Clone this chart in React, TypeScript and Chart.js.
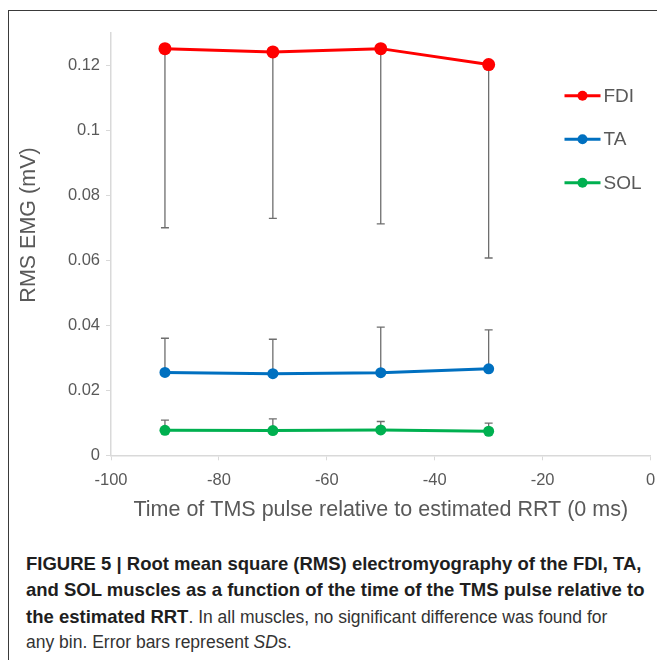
import React, { useEffect, useRef } from "react";
import { Chart, registerables } from "chart.js";

Chart.register(...registerables);

const xValues = [-90, -70, -50, -30];
const xTicks = [-100, -80, -60, -40, -20, 0];
const yTicks = [0, 0.02, 0.04, 0.06, 0.08, 0.1, 0.12];

const seriesNames = ["FDI", "TA", "SOL"];
const seriesColors = ["#ff0000", "#0070c0", "#00b050"];

const fdiMean = [0.1251, 0.1241, 0.1251, 0.1202];
const fdiSD = [0.0551, 0.0512, 0.0539, 0.0595];
const taMean = [0.0255, 0.0251, 0.0254, 0.0266];
const taSD = [0.0105, 0.0106, 0.014, 0.012];
const solMean = [0.0077, 0.0076, 0.0078, 0.0074];
const solSD = [0.0031, 0.0036, 0.0026, 0.0025];

// -1 = error bar drawn below the mean, +1 = above
const errorDirection = [-1, 1, 1];

const yTitle = "RMS EMG (mV)";
const xTitle = "Time of TMS pulse relative to estimated RRT (0 ms)";

const means = [fdiMean, taMean, solMean];
const sds = [fdiSD, taSD, solSD];

const FONT = "'Liberation Sans', Arial, Helvetica, sans-serif";
const TEXT = "#595959";
const AXIS = "#d9d9d9";

const errorBarPlugin = {
  id: "errorBars",
  beforeDatasetsDraw(chart: any) {
    const ctx = chart.ctx;
    const xs = chart.scales.x;
    const ys = chart.scales.y;
    ctx.save();
    ctx.strokeStyle = "#6e6e6e";
    ctx.lineWidth = 1.3;
    chart.data.datasets.forEach((ds: any, i: number) => {
      ds.data.forEach((p: any, j: number) => {
        const x = xs.getPixelForValue(p.x);
        const y0 = ys.getPixelForValue(p.y);
        const y1 = ys.getPixelForValue(p.y + errorDirection[i] * sds[i][j]);
        ctx.beginPath();
        ctx.moveTo(x, y0);
        ctx.lineTo(x, y1);
        ctx.moveTo(x - 4, y1);
        ctx.lineTo(x + 4, y1);
        ctx.stroke();
      });
    });
    ctx.restore();
  },
};

const decorPlugin = {
  id: "decor",
  afterDraw(chart: any) {
    const ctx = chart.ctx;
    const area = chart.chartArea;
    // legend
    const x0 = area.right - 86;
    const yStart = area.top + 63;
    const gap = 43.5;
    ctx.save();
    chart.data.datasets.forEach((ds: any, i: number) => {
      const y = yStart + i * gap;
      ctx.strokeStyle = ds.borderColor;
      ctx.lineWidth = 3;
      ctx.beginPath();
      ctx.moveTo(x0, y);
      ctx.lineTo(x0 + 36, y);
      ctx.stroke();
      ctx.fillStyle = ds.borderColor;
      ctx.beginPath();
      ctx.arc(x0 + 18, y, 5, 0, Math.PI * 2);
      ctx.fill();
      ctx.fillStyle = TEXT;
      ctx.font = `19px ${FONT}`;
      ctx.textBaseline = "middle";
      ctx.textAlign = "left";
      ctx.fillText(ds.label, x0 + 39, y + 1);
    });
    // y axis title
    ctx.translate(21, 217);
    ctx.rotate(-Math.PI / 2);
    ctx.fillStyle = TEXT;
    ctx.font = `21.5px ${FONT}`;
    ctx.textAlign = "center";
    ctx.textBaseline = "middle";
    ctx.fillText(yTitle, 0, 0);
    ctx.restore();
  },
};

function ChartView() {
  const ref = useRef<HTMLCanvasElement | null>(null);
  useEffect(() => {
    if (!ref.current) return;
    const datasets = seriesNames.map((name, i) => ({
      label: name,
      data: xValues.map((x, j) => ({ x, y: means[i][j] })),
      borderColor: seriesColors[i],
      backgroundColor: seriesColors[i],
      pointBackgroundColor: seriesColors[i],
      pointBorderColor: seriesColors[i],
      borderWidth: 3,
      pointRadius: i === 0 ? 6.5 : 5.5,
      pointBorderWidth: 0,
      tension: 0,
      fill: false,
    }));
    const chart = new Chart(ref.current, {
      type: "line",
      data: { datasets },
      plugins: [errorBarPlugin, decorPlugin],
      options: {
        animation: false,
        responsive: false,
        devicePixelRatio: 1,
        layout: { padding: { left: 0, right: 6, top: 24.7, bottom: 0 } },
        plugins: { legend: { display: false }, tooltip: { enabled: false } },
        scales: {
          x: {
            type: "linear",
            min: -100,
            max: 0,
            afterBuildTicks: (s: any) => {
              s.ticks = xTicks.map((v) => ({ value: v }));
            },
            afterFit: (s: any) => {
              s.height = 74.7;
              s.paddingLeft = 0;
              s.paddingRight = 0;
            },
            ticks: {
              color: TEXT,
              font: { family: FONT, size: 16.5 },
              padding: 10,
              maxRotation: 0,
            },
            grid: { drawOnChartArea: false, tickLength: 5, color: AXIS, lineWidth: 1 },
            border: { color: AXIS, width: 1.5 },
            title: {
              display: true,
              text: xTitle,
              color: TEXT,
              font: { family: FONT, size: 21.5 },
              padding: { top: 0, bottom: 7.5 },
            },
          },
          y: {
            type: "linear",
            min: 0,
            max: 0.13,
            afterBuildTicks: (s: any) => {
              s.ticks = yTicks.map((v) => ({ value: v }));
            },
            afterFit: (s: any) => {
              s.width = 103;
            },
            ticks: {
              color: TEXT,
              font: { family: FONT, size: 16.5 },
              padding: 6,
              callback: (v: any) => String(Number(Number(v).toFixed(2))),
            },
            grid: { drawOnChartArea: false, tickLength: 5, color: AXIS, lineWidth: 1 },
            border: { color: AXIS, width: 1.5 },
            title: { display: false },
          },
        },
      },
    } as any);
    return () => chart.destroy();
  }, []);
  return (
    <canvas
      ref={ref}
      width={649}
      height={522}
      style={{ position: "absolute", left: 8, top: 8, width: 649, height: 522 }}
    />
  );
}

export default function App() {
  return (
    <div
      style={{
        position: "fixed",
        left: 0,
        top: 0,
        width: 657,
        height: 660,
        overflow: "hidden",
        background: "#fff",
      }}
    >
      <div
        style={{
          position: "absolute",
          left: 8,
          top: 10,
          width: 700,
          height: 700,
          borderLeft: "1.5px solid #3a3a3a",
          borderTop: "1.5px solid #3a3a3a",
          boxSizing: "border-box",
        }}
      />
      <ChartView />
      <div
        style={{
          position: "absolute",
          left: 26,
          top: 551,
          fontFamily: FONT,
          fontSize: 17.5,
          lineHeight: "25.4px",
          color: "#333",
          whiteSpace: "nowrap",
        }}
      >
        <b style={{ color: "#1e1e1e", fontSize: 18.5 }}>
          FIGURE 5 | Root mean square (RMS) electromyography of the FDI, TA,
        </b>
        <br />
        <b style={{ color: "#1e1e1e", fontSize: 18.5 }}>
          and SOL muscles as a function of the time of the TMS pulse relative to
        </b>
        <br />
        <b style={{ color: "#1e1e1e", fontSize: 18.5 }}>the estimated RRT</b>. In all muscles, no
        significant difference was found for
        <br />
        any bin. Error bars represent <i>SD</i>s.
      </div>
    </div>
  );
}
